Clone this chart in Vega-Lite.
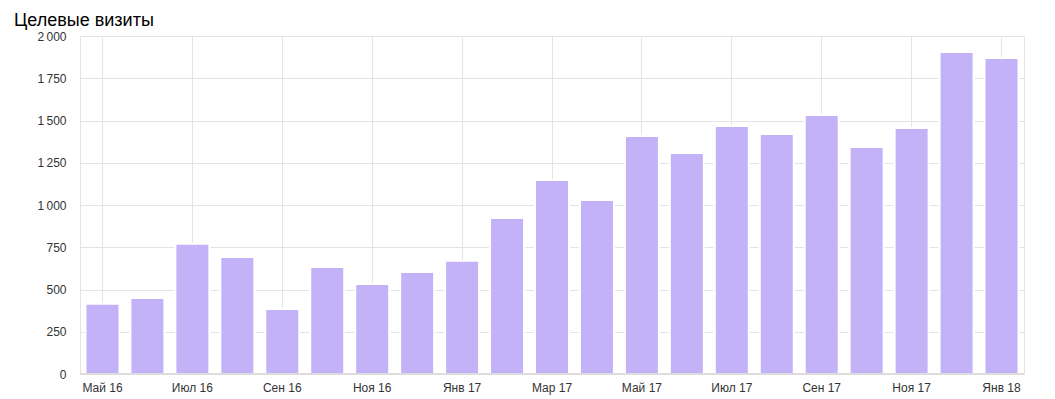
{
  "$schema": "https://vega.github.io/schema/vega-lite/v6.json",
  "width": 944,
  "height": 338,
  "autosize": {"type": "none"},
  "padding": {"left": 80, "top": 36, "right": 31, "bottom": 25},
  "title": {"text": "Целевые визиты", "anchor": "start", "frame": "group", "dx": -66, "dy": 24, "offset": 10, "baseline": "alphabetic", "font": "Liberation Sans", "fontSize": 18, "fontWeight": "normal", "color": "#000000"},
  "data": {"values": [
    {"month": "Май 16", "visits": 415},
    {"month": "Июн 16", "visits": 450},
    {"month": "Июл 16", "visits": 770},
    {"month": "Авг 16", "visits": 692},
    {"month": "Сен 16", "visits": 385},
    {"month": "Окт 16", "visits": 633},
    {"month": "Ноя 16", "visits": 532},
    {"month": "Дек 16", "visits": 603},
    {"month": "Янв 17", "visits": 670},
    {"month": "Фев 17", "visits": 923},
    {"month": "Мар 17", "visits": 1148},
    {"month": "Апр 17", "visits": 1030},
    {"month": "Май 17", "visits": 1408},
    {"month": "Июн 17", "visits": 1308},
    {"month": "Июл 17", "visits": 1467},
    {"month": "Авг 17", "visits": 1420},
    {"month": "Сен 17", "visits": 1533},
    {"month": "Окт 17", "visits": 1343},
    {"month": "Ноя 17", "visits": 1456},
    {"month": "Дек 17", "visits": 1905},
    {"month": "Янв 18", "visits": 1870}
  ]},
  "layer": [
    {
      "mark": {"type": "bar", "color": "#c3b2f7", "stroke": "#ffffff", "strokeWidth": 2},
      "encoding": {
        "x": {
          "field": "month", "type": "ordinal", "sort": null,
          "scale": {"paddingInner": 0.244, "paddingOuter": 0.122},
          "axis": {
            "title": null,
            "values": ["Май 16", "Июл 16", "Сен 16", "Ноя 16", "Янв 17", "Мар 17", "Май 17", "Июл 17", "Сен 17", "Ноя 17", "Янв 18"],
            "labelAngle": 0, "ticks": false, "domain": false,
            "grid": true, "gridColor": "#e4e4e4", "gridWidth": 1, "bandPosition": 0.5,
            "labelFont": "Liberation Sans", "labelFontSize": 12, "labelColor": "#333333", "labelPadding": 8
          }
        },
        "y": {
          "field": "visits", "type": "quantitative",
          "scale": {"domain": [0, 2000]},
          "axis": {
            "title": null,
            "values": [0, 250, 500, 750, 1000, 1250, 1500, 1750, 2000],
            "labelExpr": "replace(format(datum.value, ','), ',', '\u2009')",
            "ticks": false, "domain": false,
            "grid": true, "gridColor": "#e4e4e4", "gridWidth": 1,
            "labelFont": "Liberation Sans", "labelFontSize": 12, "labelColor": "#333333", "labelPadding": 14
          }
        }
      }
    },
    {
      "mark": {"type": "rule", "color": "#dcdcdc", "strokeWidth": 1},
      "encoding": {"y": {"datum": 0}}
    }
  ],
  "config": {"view": {"stroke": "#e4e4e4"}}
}
